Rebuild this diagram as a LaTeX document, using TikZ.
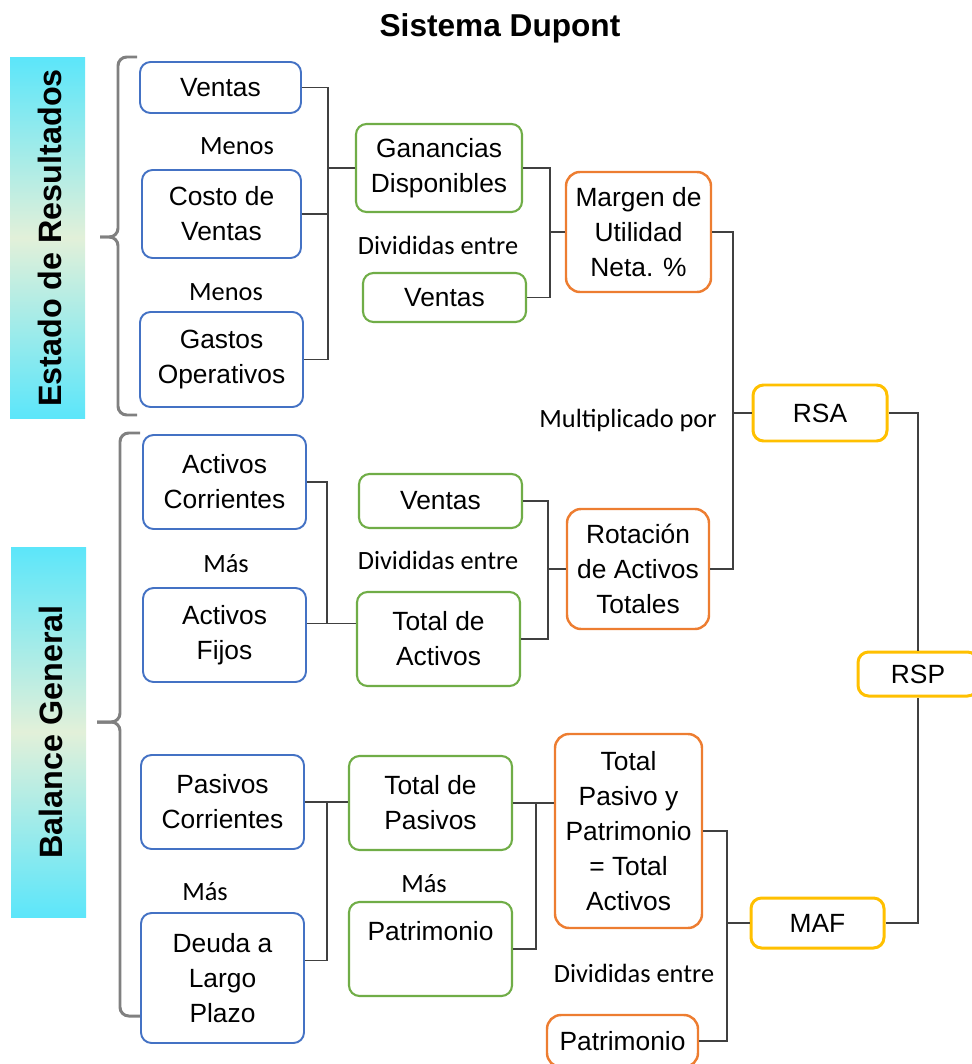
\documentclass[tikz,border=0pt]{standalone}
\usepackage{fontspec}
\setmainfont{Liberation Sans}
\newfontfamily\lblfont{Carlito}
\usepackage{tikz}

\definecolor{boxblue}{RGB}{68,114,196}
\definecolor{boxgreen}{RGB}{112,173,71}
\definecolor{boxorange}{RGB}{237,125,49}
\definecolor{boxgold}{RGB}{255,192,0}
\definecolor{linkgray}{RGB}{64,64,64}
\definecolor{bracegray}{RGB}{128,128,128}
\definecolor{bannercyan}{RGB}{92,230,250}
\definecolor{bannerpale}{RGB}{226,240,217}

\begin{document}
\begin{tikzpicture}[
  x=0.02cm, y=-0.02cm,
  box/.style={rounded corners=6pt, fill=white, align=center, inner sep=0pt,
    font=\fontsize{15}{20}\selectfont},
  sz/.style 2 args={minimum width=#1*0.02cm, minimum height=#2*0.02cm},
  bluebox/.style={box, draw=boxblue, line width=1.1pt},
  greenbox/.style={box, draw=boxgreen, line width=1.2pt},
  orangebox/.style={box, draw=boxorange, line width=1.4pt, rounded corners=8pt},
  goldbox/.style={box, draw=boxgold, line width=1.7pt},
  lbl/.style={font=\lblfont\fontsize{15}{18}\selectfont, inner sep=0pt},
  link/.style={draw=linkgray, line width=0.8pt},
  brace/.style={draw=bracegray, line width=1.7pt, rounded corners=5pt},
  banner/.style={draw=none, top color=bannercyan, bottom color=bannercyan, middle color=bannerpale}
]
\useasboundingbox (0,0) rectangle (971,1064);

\node[font=\bfseries\fontsize{18}{22}\selectfont] (title) at (500,28) {Sistema Dupont};

\shade[banner] (10,58) rectangle (85,418);
\node[rotate=90, font=\bfseries\fontsize{18.4}{22}\selectfont] (estado) at (50,238) {Estado de Resultados};
\shade[banner] (11,547) rectangle (86,917);
\node[rotate=90, font=\bfseries\fontsize{18.4}{22}\selectfont] (balance) at (51,732) {Balance General};

\draw[brace] (137,57) -- (118,57) -- (118,237) -- (100,237);
\draw[brace] (137,415) -- (118,415) -- (118,237) -- (100,237);
\draw[brace] (140,433) -- (120,433) -- (120,722) -- (97,722);
\draw[brace] (140,1016) -- (120,1016) -- (120,722) -- (97,722);

\node[bluebox, sz={161}{51}] (ventasA) at (220.5,87.5) {Ventas};
\node[bluebox, sz={159}{88}] (costo) at (221.5,214) {Costo de\\Ventas};
\node[bluebox, sz={163}{95}] (gastos) at (221.5,359.5) {Gastos\\Operativos};
\node[greenbox, sz={166}{88}] (gan) at (439,168) {Ganancias\\Disponibles};
\node[greenbox, sz={163}{49}] (ventasB) at (444.5,297.5) {Ventas};
\node[orangebox, sz={145}{120}] (margen) at (638.5,232) {Margen de\\Utilidad\\Neta. \%};

\node[bluebox, sz={163}{94}] (actc) at (224.5,482) {Activos\\Corrientes};
\node[bluebox, sz={163}{94}] (actf) at (224.5,635) {Activos\\Fijos};
\node[greenbox, sz={163}{54}] (ventasC) at (440.5,501) {Ventas};
\node[greenbox, sz={163}{94}] (totact) at (438.5,639) {Total de\\Activos};
\node[orangebox, sz={142}{120}] (rot) at (638,569) {Rotación\\de Activos\\Totales};

\node[goldbox, sz={134}{56}] (rsa) at (820,413) {RSA};
\node[goldbox, sz={120}{44}] (rsp) at (918,674) {RSP};
\node[goldbox, sz={133}{50}] (maf) at (817.5,923) {MAF};

\node[bluebox, sz={163}{94}] (pasc) at (222.5,802) {Pasivos\\Corrientes};
\node[bluebox, sz={163}{130}] (deuda) at (222.5,978) {Deuda a\\Largo\\Plazo};
\node[greenbox, sz={163}{94}] (totpas) at (430.5,803) {Total de\\Pasivos};
\node[greenbox, sz={163}{94}] (patG) at (430.5,949) {Patrimonio\\\mbox{}};
\node[orangebox, sz={147}{194}] (tpp) at (628.5,831) {Total\\Pasivo y\\Patrimonio\\= Total\\Activos};
\node[orangebox, sz={151}{52}] (patO) at (622.5,1041) {Patrimonio};

\node[lbl] (menosA) at (237,146) {Menos};
\node[lbl] (menosB) at (226,292) {Menos};
\node[lbl] (divA) at (438,245) {Divididas entre};
\node[lbl] (mult) at (628,420) {Multiplicado por};
\node[lbl] (masA) at (226,564) {Más};
\node[lbl] (divB) at (438,560) {Divididas entre};
\node[lbl] (masB) at (205,892) {Más};
\node[lbl] (masC) at (424,884) {Más};
\node[lbl] (divC) at (634,973) {Divididas entre};

\coordinate (spA) at (328,0);
\coordinate (spB) at (550,0);
\coordinate (spC) at (733,0);
\coordinate (spD) at (327,0);
\coordinate (spE) at (548,0);
\coordinate (spF) at (327,0);
\coordinate (spG) at (536,0);
\coordinate (spH) at (727,0);

\draw[link] (ventasA.east) -- (ventasA.east -| spA) -- (gastos.east -| spA) -- (gastos.east);
\draw[link] (costo.east) -- (costo.east -| spA);
\draw[link] (gan.west -| spA) -- (gan.west);

\draw[link] (gan.east) -- (gan.east -| spB) -- (ventasB.east -| spB) -- (ventasB.east);
\draw[link] (margen.west -| spB) -- (margen.west);

\draw[link] (margen.east) -- (margen.east -| spC) -- (rot.east -| spC) -- (rot.east);
\draw[link] (rsa.west -| spC) -- (rsa.west);

\draw[link] (actc.east) -- (actc.east -| spD) -- (actf.8 -| spD);
\draw[link] (actf.8) -- (actf.8 -| totact.west);

\draw[link] (ventasC.east) -- (ventasC.east -| spE) -- (totact.east -| spE) -- (totact.east);
\draw[link] (rot.west -| spE) -- (rot.west);

\draw[link] (pasc.east) -- (pasc.east -| totpas.west);
\draw[link] (pasc.east -| spF) -- (deuda.12 -| spF) -- (deuda.12);

\draw[link] (totpas.east) -- (totpas.east -| tpp.west);
\draw[link] (totpas.east -| spG) -- (patG.east -| spG) -- (patG.east);

\draw[link] (tpp.east) -- (tpp.east -| spH) -- (patO.east -| spH) -- (patO.east);
\draw[link] (maf.west -| spH) -- (maf.west);

\draw[link] (rsa.east) -| (rsp.north);
\draw[link] (maf.east) -| (rsp.south);
\end{tikzpicture}
\end{document}
